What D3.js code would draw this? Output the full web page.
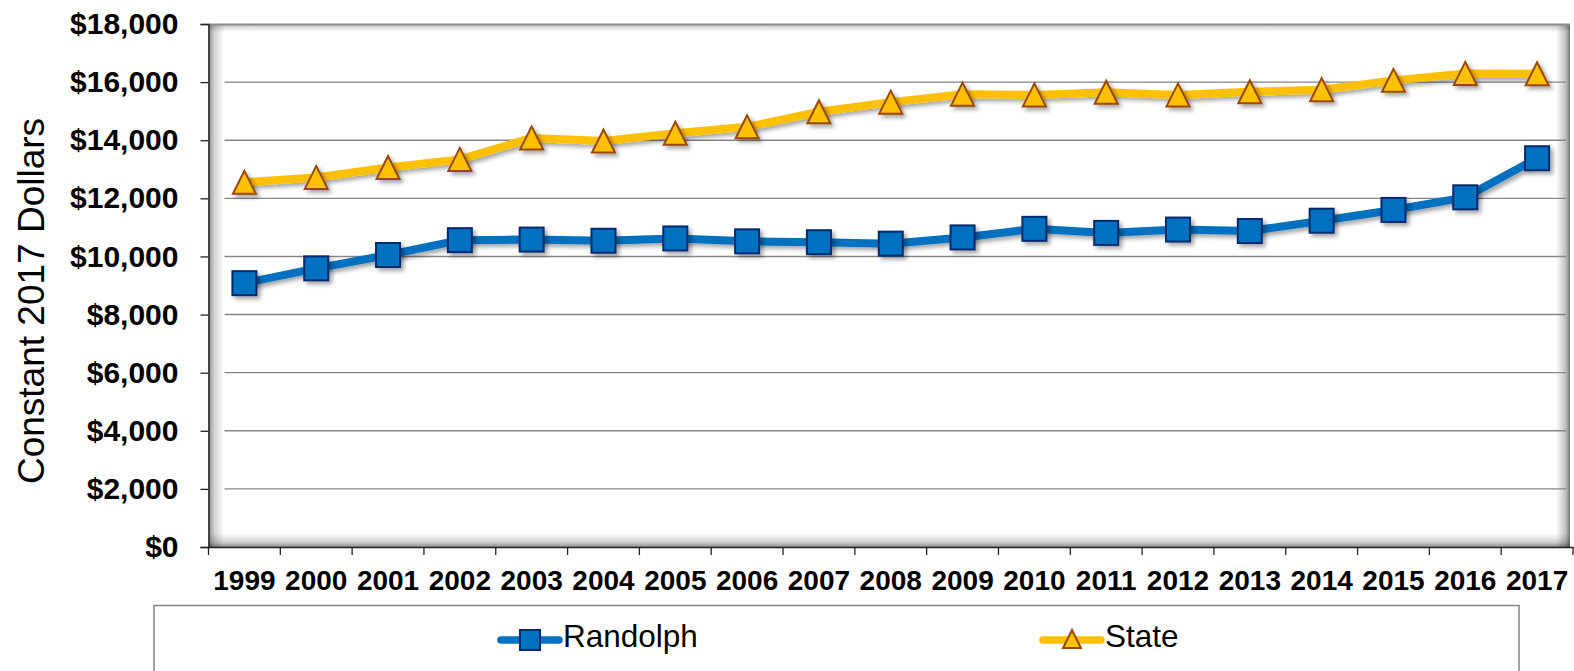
<!DOCTYPE html>
<html>
<head>
<meta charset="utf-8">
<script src="https://cdn.jsdelivr.net/npm/d3@7"></script>
<style>
  html, body { margin: 0; padding: 0; background: #fff; }
  svg { display: block; font-family: "Liberation Sans", Arial, sans-serif; }
</style>
</head>
<body>
<svg id="chart" width="1574" height="671"></svg>
<script>
const years = ["1999","2000","2001","2002","2003","2004","2005","2006","2007","2008","2009","2010","2011","2012","2013","2014","2015","2016","2017"];
const randolph = [9080, 9590, 10050, 10560, 10580, 10540, 10620, 10520, 10490, 10440, 10655, 10950, 10810, 10925, 10875, 11230, 11600, 12035, 13380];
const state = [12550, 12720, 13060, 13340, 14080, 13970, 14240, 14460, 14980, 15310, 15585, 15560, 15650, 15560, 15670, 15740, 16060, 16300, 16290];
const yTicks = [0, 2000, 4000, 6000, 8000, 10000, 12000, 14000, 16000, 18000];
const seriesNames = ["Randolph", "State"];
const yTitle = "Constant 2017 Dollars";

const svg = d3.select("#chart");
const L = 208.5, R = 1573, T = 24, B = 547, boxR = 1570;

const x = d3.scaleBand().domain(years).range([L, R]).padding(0);
const y = d3.scaleLinear().domain([0, 18000]).range([B, T]);
const cx = d => x(d) + x.bandwidth() / 2;

const defs = svg.append("defs");
function grad(id, x1, y1, x2, y2, stops) {
  const g = defs.append("linearGradient").attr("id", id)
    .attr("x1", x1).attr("y1", y1).attr("x2", x2).attr("y2", y2);
  stops.forEach(s => g.append("stop").attr("offset", s[0]).attr("stop-color", "#000").attr("stop-opacity", s[1]));
}
grad("gL", "0", "0", "1", "0", [[0, 0.45], [0.35, 0.18], [1, 0]]);
grad("gR", "1", "0", "0", "0", [[0, 0.55], [0.3, 0.25], [1, 0]]);
grad("gB", "0", "1", "0", "0", [[0, 0.45], [0.35, 0.18], [1, 0]]);
grad("gT", "0", "0", "0", "1", [[0, 0.25], [1, 0]]);

const ds = defs.append("filter").attr("id", "shadow")
  .attr("x", "-20%").attr("y", "-20%").attr("width", "140%").attr("height", "140%");
ds.append("feDropShadow").attr("dx", 3).attr("dy", 3).attr("stdDeviation", 2.2)
  .attr("flood-color", "#000").attr("flood-opacity", 0.35);

// plot box shading
const box = svg.append("g");
box.append("rect").attr("x", L).attr("y", T).attr("width", boxR - L).attr("height", B - T).attr("fill", "#fff");
box.append("rect").attr("x", L).attr("y", T).attr("width", 16).attr("height", B - T).attr("fill", "url(#gL)");
box.append("rect").attr("x", boxR - 14).attr("y", T).attr("width", 14).attr("height", B - T).attr("fill", "url(#gR)");
box.append("rect").attr("x", L).attr("y", B - 14).attr("width", boxR - L).attr("height", 14).attr("fill", "url(#gB)");
box.append("rect").attr("x", L).attr("y", T).attr("width", boxR - L).attr("height", 8).attr("fill", "url(#gT)");
box.append("line").attr("x1", L).attr("x2", boxR).attr("y1", T + 0.5).attr("y2", T + 0.5)
  .attr("stroke", "#8c8c8c").attr("stroke-width", 2);

// gridlines
svg.append("g").selectAll("line").data(yTicks.filter(d => d > 0 && d < 18000)).join("line")
  .attr("x1", L + 16).attr("x2", boxR - 4)
  .attr("y1", d => y(d)).attr("y2", d => y(d))
  .attr("stroke", "#858585").attr("stroke-width", 1.4);

// y axis
const yAxis = svg.append("g").attr("transform", `translate(${L},0)`)
  .call(d3.axisLeft(y).tickValues(yTicks).tickSize(8).tickPadding(22)
    .tickFormat(d => "$" + d3.format(",")(d)));
yAxis.select(".domain").attr("stroke", "#222").attr("stroke-width", 1.5);
yAxis.selectAll(".tick line").attr("stroke", "#222").attr("stroke-width", 1.3);
yAxis.selectAll("text").attr("font-size", 30).attr("font-weight", "bold").attr("fill", "#000")
  .attr("font-family", "'Liberation Sans', Arial, sans-serif");

// x axis
const xAxis = svg.append("g").attr("transform", `translate(0,${B})`)
  .call(d3.axisBottom(x).tickSize(0).tickPadding(23));
xAxis.select(".domain").attr("stroke", "#222").attr("stroke-width", 1.5);
xAxis.selectAll("text").attr("font-size", 28).attr("font-weight", "bold").attr("fill", "#000")
  .attr("font-family", "'Liberation Sans', Arial, sans-serif");
const bounds = years.map(d => x(d)).concat([x(years[years.length - 1]) + x.bandwidth()]);
xAxis.selectAll(".btick").data(bounds).join("line").attr("class", "btick")
  .attr("x1", d => d).attr("x2", d => d).attr("y1", 0).attr("y2", 8)
  .attr("stroke", "#222").attr("stroke-width", 1.3);

// y title
svg.append("text")
  .attr("transform", "translate(44,301) rotate(-90)")
  .attr("text-anchor", "middle").attr("font-size", 37).attr("fill", "#000")
  .text(yTitle);

// lines
const line = d3.line().x((d, i) => cx(years[i])).y(d => y(d));
const plot = svg.append("g").attr("filter", "url(#shadow)");
plot.append("path").datum(state).attr("d", line).attr("fill", "none")
  .attr("stroke", "#FFC000").attr("stroke-width", 8).attr("stroke-linejoin", "round");
plot.append("path").datum(randolph).attr("d", line).attr("fill", "none")
  .attr("stroke", "#0070C0").attr("stroke-width", 8).attr("stroke-linejoin", "round");

const markers = svg.append("g").attr("filter", "url(#shadow)");
function triPath(s) {
  return `M0,${-s / 2}L${s / 2},${s / 2}L${-s / 2},${s / 2}Z`;
}
markers.selectAll(".tri").data(state).join("path").attr("class", "tri")
  .attr("transform", (d, i) => `translate(${cx(years[i])},${y(d)})`)
  .attr("d", triPath(23))
  .attr("fill", "#FFC000").attr("stroke", "#984807").attr("stroke-width", 2).attr("stroke-linejoin", "miter");
markers.selectAll(".sq").data(randolph).join("rect").attr("class", "sq")
  .attr("x", (d, i) => cx(years[i]) - 12).attr("y", d => y(d) - 12)
  .attr("width", 24).attr("height", 24)
  .attr("fill", "#0070C0").attr("stroke", "#002A6E").attr("stroke-width", 2);

// legend
const lg = svg.append("g");
lg.append("rect").attr("x", 154).attr("y", 605.5).attr("width", 1365).attr("height", 80)
  .attr("fill", "#fff").attr("stroke", "#858585").attr("stroke-width", 1.5);
const legendItems = [
  { name: seriesNames[0], x0: 501, color: "#0070C0", type: "sq" },
  { name: seriesNames[1], x0: 1043, color: "#FFC000", type: "tri" }
];
legendItems.forEach(it => {
  const g = lg.append("g");
  g.append("line").attr("x1", it.x0).attr("x2", it.x0 + 58).attr("y1", 640).attr("y2", 640)
    .attr("stroke", it.color).attr("stroke-width", 7.5).attr("stroke-linecap", "round");
  if (it.type === "sq") {
    g.append("rect").attr("x", it.x0 + 19).attr("y", 630).attr("width", 20).attr("height", 20)
      .attr("fill", "#0070C0").attr("stroke", "#002A6E").attr("stroke-width", 2);
  } else {
    g.append("path").attr("transform", `translate(${it.x0 + 29},639)`).attr("d", triPath(18))
      .attr("fill", "#FFC000").attr("stroke", "#984807").attr("stroke-width", 2);
  }
  g.append("text").attr("x", it.x0 + 62).attr("y", 647).attr("font-size", 31.5).attr("fill", "#000")
    .text(it.name);
});
</script>
</body>
</html>
